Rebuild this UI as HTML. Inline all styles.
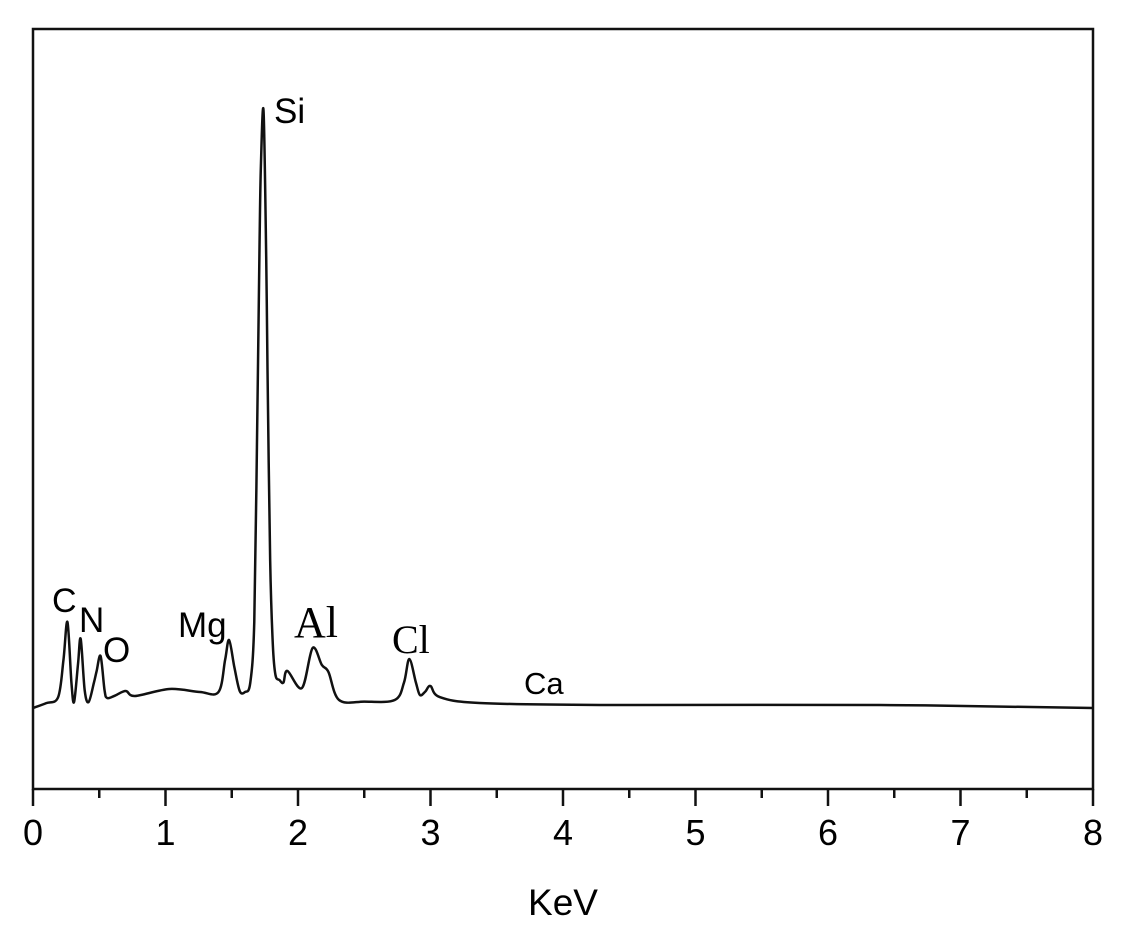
<!DOCTYPE html>
<html><head><meta charset="utf-8"><style>
html,body{margin:0;padding:0;background:#fff;}
svg{display:block;font-family:"Liberation Sans",sans-serif;}
</style></head><body>
<svg id="chart" width="1123" height="935" viewBox="0 0 1123 935">
<rect x="33" y="29" width="1060" height="760" fill="none" stroke="#111" stroke-width="2.5"/>
<g id="ticks"></g>
<g id="series"></g>
<g id="labels">
<text x="52" y="612" font-size="34">C</text>
<text x="79" y="632" font-size="35">N</text>
<text x="103" y="662" font-size="35">O</text>
<text x="178" y="637" font-size="35">Mg</text>
<text x="274" y="123" font-size="35">Si</text>
<text x="294" y="637" font-size="44" font-family="Liberation Serif,serif">Al</text>
<text x="392" y="653" font-size="40" font-family="Liberation Serif,serif">Cl</text>
<text x="524" y="694" font-size="31">Ca</text>
</g>
<text x="563" y="915" font-size="37" text-anchor="middle">KeV</text>
</svg>
<script>
const energy = [0,0.1,0.19,0.23,0.26,0.29,0.31,0.34,0.36,0.39,0.42,0.46,0.48,0.51,0.54,0.56,0.62,0.7,0.77,1.03,1.26,1.4,1.45,1.48,1.52,1.56,1.6,1.64,1.67,1.69,1.71,1.72,1.74,1.76,1.77,1.79,1.81,1.83,1.86,1.89,1.92,2.03,2.11,2.18,2.23,2.31,2.5,2.73,2.8,2.84,2.89,2.92,2.96,3.0,3.07,3.37,4.28,6.39,8.0];
const counts = [10.66,11.3,12.1,17,21.97,14,11.45,16.5,19.74,13,11.45,14,15.5,17.5,13,11.97,12.3,12.89,12.24,13.16,12.76,12.76,17,19.6,16,12.9,12.76,14,22,45,72,82,89.2,70,55,30,19,15.0,14.34,14.0,15.53,13.29,18.55,16.32,15.39,11.71,11.5,11.71,14,17.1,14,12.37,12.8,13.55,12.1,11.32,11.05,11.05,10.66];
const xTicks = [0,1,2,3,4,5,6,7,8];
const xMinor = [0.5,1.5,2.5,3.5,4.5,5.5,6.5,7.5];
const NS='http://www.w3.org/2000/svg';
const X0=33,X1=1093,Y0=789,Y1=29;
function xs(v){return X0+(v-0)/(8-0)*(X1-X0);}
function ys(v){return Y0-(v-0)/(100-0)*(Y0-Y1);}
const tg=document.getElementById('ticks');
xTicks.forEach(t=>{
  const l=document.createElementNS(NS,'line');
  l.setAttribute('x1',xs(t));l.setAttribute('x2',xs(t));l.setAttribute('y1',Y0);l.setAttribute('y2',Y0+17);
  l.setAttribute('stroke','#111');l.setAttribute('stroke-width','2.5');
  
  
  tg.appendChild(l);
  const tx=document.createElementNS(NS,'text');
  tx.setAttribute('x',xs(t));tx.setAttribute('y',845);tx.setAttribute('font-size','36');tx.setAttribute('text-anchor','middle');
  tx.textContent=t;
  
  
  tg.appendChild(tx);
});
xMinor.forEach(t=>{
  const l=document.createElementNS(NS,'line');
  l.setAttribute('x1',xs(t));l.setAttribute('x2',xs(t));l.setAttribute('y1',Y0);l.setAttribute('y2',Y0+9);
  l.setAttribute('stroke','#111');l.setAttribute('stroke-width','2.5');
  
  
  tg.appendChild(l);
});
const pts=energy.map((e,i)=>[xs(e),ys(counts[i])]);
let d='M'+pts[0][0]+','+pts[0][1];
for(let i=0;i<pts.length-1;i++){
  const p0=pts[Math.max(0,i-1)],p1=pts[i],p2=pts[i+1],p3=pts[Math.min(pts.length-1,i+2)];
  const c1x=p1[0]+(p2[0]-p0[0])/6,c1y=p1[1]+(p2[1]-p0[1])/6;
  const c2x=p2[0]-(p3[0]-p1[0])/6,c2y=p2[1]-(p3[1]-p1[1])/6;
  d+=' C'+c1x+','+c1y+' '+c2x+','+c2y+' '+p2[0]+','+p2[1];
}
const path=document.createElementNS(NS,'path');
path.setAttribute('d',d);path.setAttribute('fill','none');path.setAttribute('stroke','#111');path.setAttribute('stroke-width','2.5');


document.getElementById('series').appendChild(path);
</script>
</body></html>
